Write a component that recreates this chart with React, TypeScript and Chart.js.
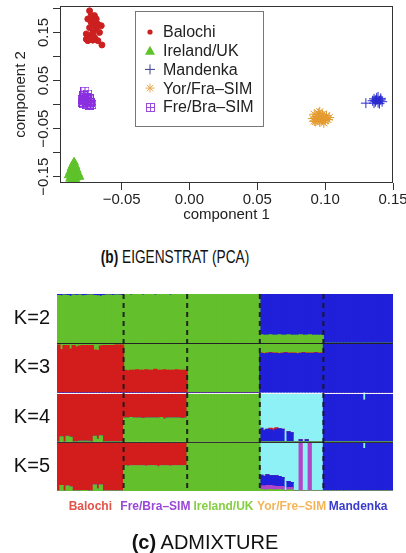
import React, { useEffect, useRef } from 'react';
import { Chart, registerables } from 'chart.js';

Chart.register(...registerables);

const FONT = '"Liberation Sans", Arial, Helvetica, sans-serif';

// ---------------- PCA (EIGENSTRAT) data ----------------
const BALOCHI_X = [-0.0736, -0.07, -0.0749, -0.0712, -0.0675, -0.065, -0.0736, -0.0687, -0.0712, -0.0663, -0.0736, -0.07, -0.0749, -0.0712, -0.0675, -0.0645, -0.076, -0.0724, -0.0687, -0.0724, -0.07, -0.076];
const BALOCHI_Y = [0.195, 0.185, 0.178, 0.174, 0.167, 0.164, 0.16, 0.157, 0.15, 0.15, 0.143, 0.14, 0.133, 0.134, 0.133, 0.124, 0.136, 0.185, 0.178, 0.171, 0.164, 0.147];
const IRELAND_X = [-0.085, -0.086, -0.084, -0.087, -0.085, -0.083, -0.088, -0.086, -0.084, -0.082, -0.089, -0.087, -0.085, -0.083, -0.081, -0.088, -0.086, -0.084];
const IRELAND_Y = [-0.12, -0.126, -0.128, -0.132, -0.134, -0.136, -0.14, -0.141, -0.142, -0.144, -0.147, -0.149, -0.15, -0.151, -0.15, -0.154, -0.155, -0.155];
const MANDENKA_X = [0.136, 0.138, 0.14, 0.137, 0.139, 0.141, 0.135, 0.138, 0.14, 0.136, 0.142, 0.139, 0.13, 0.137, 0.141];
const MANDENKA_Y = [0.012, 0.01, 0.008, 0.006, 0.004, 0.01, 0.008, 0.014, 0.002, 0.003, 0.006, 0.016, 0.003, 0.009, 0.013];
const YOR_X = [0.092, 0.095, 0.098, 0.101, 0.094, 0.097, 0.1, 0.103, 0.091, 0.094, 0.097, 0.1, 0.096, 0.093, 0.099, 0.096, 0.098, 0.095, 0.102, 0.092];
const YOR_Y = [-0.02, -0.018, -0.021, -0.023, -0.025, -0.026, -0.028, -0.027, -0.029, -0.031, -0.032, -0.033, -0.036, -0.035, -0.038, -0.015, -0.03, -0.028, -0.031, -0.034];
const FREBRA_X = [-0.077, -0.075, -0.078, -0.076, -0.074, -0.079, -0.077, -0.075, -0.073, -0.078, -0.076, -0.074, -0.072, -0.077, -0.075, -0.079];
const FREBRA_Y = [0.028, 0.022, 0.018, 0.014, 0.012, 0.01, 0.008, 0.006, 0.004, 0.002, 0.0, -0.002, 0.0, 0.015, 0.01, 0.005];

const PCA_LABELS = ['Balochi', 'Ireland/UK', 'Mandenka', 'Yor/Fra\u2013SIM', 'Fre/Bra\u2013SIM'];
const X_MIN = -0.0954;
const X_MAX = 0.15;
const Y_MIN = -0.163;
const Y_MAX = 0.205;
const X_TICKS = [-0.05, 0, 0.05, 0.1, 0.15];
const X_TICK_LABELS = ['\u22120.05', '0.00', '0.05', '0.10', '0.15'];
const Y_TICKS = [-0.15, -0.1, -0.05, 0, 0.05, 0.1, 0.15, 0.2];
const Y_TICK_LABELS = ['\u22120.15', '', '\u22120.05', '', '0.05', '', '0.15', ''];

// ---------------- ADMIXTURE data ----------------
const GROUPS = ['Balochi', 'Fre/Bra\u2013SIM', 'Ireland/UK', 'Yor/Fre\u2013SIM', 'Mandenka'];
const GROUP_SIZES = [22, 21, 24, 21, 23];
const GROUP_COLORS = ['#e0544a', '#9a48d6', '#86cf45', '#f3b45a', '#3a3acc'];
const K_LABELS = ['K=2', 'K=3', 'K=4', 'K=5'];

// K=2 (blue share; green is the rest)
const K2_BLUE_BALOCHI = [0.03, 0.04, 0.02, 0.03, 0.05, 0.02, 0.03, 0.02, 0.04, 0.03, 0.02, 0.02, 0.03, 0.04, 0.05, 0.03, 0.02, 0.02, 0.03, 0.02, 0.02, 0.03];
const K2_BLUE_FREBRA = [0.01, 0.01, 0.02, 0.01, 0.01, 0.01, 0.02, 0.01, 0.01, 0.01, 0.02, 0.01, 0.01, 0.01, 0.01, 0.02, 0.01, 0.01, 0.01, 0.01, 0.01];
const K2_BLUE_YOR = [0.83, 0.84, 0.84, 0.83, 0.84, 0.84, 0.83, 0.84, 0.84, 0.83, 0.84, 0.84, 0.84, 0.83, 0.84, 0.84, 0.83, 0.84, 0.84, 0.84, 0.84];

// K=3
const K3_GREEN_BALOCHI = [0.04, 0.13, 0.05, 0.05, 0.12, 0.05, 0.08, 0.06, 0.05, 0.05, 0.05, 0.05, 0.14, 0.15, 0.06, 0.05, 0.05, 0.05, 0.05, 0.04, 0.04, 0.04];
const K3_GREEN_FREBRA = [0.55, 0.56, 0.55, 0.55, 0.54, 0.55, 0.55, 0.54, 0.55, 0.55, 0.53, 0.55, 0.55, 0.54, 0.55, 0.55, 0.55, 0.54, 0.55, 0.55, 0.55];
const K3_BLUE_YOR = [0.79, 0.78, 0.79, 0.8, 0.79, 0.79, 0.78, 0.79, 0.8, 0.79, 0.79, 0.79, 0.78, 0.79, 0.8, 0.79, 0.79, 0.79, 0.8, 0.79, 0.79];
const K3_GREEN_YOR = [0.2, 0.21, 0.2, 0.19, 0.2, 0.2, 0.21, 0.2, 0.19, 0.2, 0.2, 0.2, 0.21, 0.2, 0.19, 0.2, 0.2, 0.2, 0.19, 0.2, 0.2];

// K=4
const K4_GREEN_BALOCHI = [0, 0.1, 0, 0.11, 0.09, 0, 0, 0.01, 0.01, 0.01, 0.01, 0, 0.11, 0.05, 0.12, 0, 0, 0, 0, 0, 0, 0];
const K4_GREEN_FREBRA = [0.48, 0.48, 0.49, 0.48, 0.48, 0.48, 0.47, 0.48, 0.48, 0.48, 0.48, 0.48, 0.49, 0.46, 0.48, 0.48, 0.48, 0.48, 0.48, 0.47, 0.48];
const K4_BLUE_YOR = [0.27, 0.23, 0.25, 0.24, 0.22, 0.25, 0.26, 0.25, 0, 0.2, 0.18, 0, 0, 0.04, 0, 0.04, 0, 0, 0, 0, 0];
const K4_RED_YOR = [0, 0, 0, 0.03, 0.04, 0.03, 0, 0, 0, 0, 0, 0, 0, 0, 0, 0, 0, 0, 0, 0, 0];
const K4_BLUE_MANDENKA = [1, 1, 1, 1, 1, 1, 1, 1, 1, 1, 1, 1, 1, 0.84, 1, 1, 1, 1, 1, 1, 1, 1, 1];

// K=5
const K5_GREEN_BALOCHI = [0, 0.11, 0, 0.1, 0.08, 0, 0, 0, 0.01, 0.01, 0, 0, 0.12, 0.04, 0.12, 0, 0, 0, 0, 0, 0, 0];
const K5_GREEN_FREBRA = [0.51, 0.5, 0.51, 0.51, 0.51, 0.51, 0.51, 0.5, 0.51, 0.51, 0.51, 0.49, 0.51, 0.51, 0.51, 0.5, 0.51, 0.51, 0.51, 0.51, 0.51];
const K5_GREEN_YOR = [0.03, 0.02, 0.02, 0.03, 0.02, 0.02, 0.03, 0.02, 0, 0.02, 0.02, 0, 0, 0, 0, 0, 0, 0, 0, 0, 0];
const K5_PURPLE_YOR = [0.07, 0.08, 0.09, 0.08, 0.08, 0.07, 0.06, 0.07, 0, 0.05, 0.05, 0, 0, 1, 0, 0, 1, 0, 0, 0, 0];
const K5_BLUE_YOR = [0.22, 0.2, 0.22, 0.2, 0.21, 0.22, 0.2, 0.18, 0, 0.12, 0.1, 0, 0, 0, 0, 0, 0, 0, 0, 0, 0];
const K5_BLUE_MANDENKA = [1, 1, 1, 1, 1, 1, 1, 1, 1, 1, 1, 1, 1, 0.86, 1, 1, 1, 1, 1, 1, 1, 1, 1];

const C_RED = '#d31d1d';
const C_GREEN = '#63bf2b';
const C_BLUE = '#2020da';
const C_CYAN = '#8df1f5';
const C_PURPLE = '#b246c9';

const rep = (v: number, n: number): number[] => Array(n).fill(v);
const rest = (...parts: number[][]): number[] =>
  parts[0].map((_, i) => Math.max(0, 1 - parts.reduce((s, p) => s + p[i], 0)));
const [NB, NF, NI, NY, NM] = GROUP_SIZES;

const K2_BLUE = [...K2_BLUE_BALOCHI, ...K2_BLUE_FREBRA, ...rep(0, NI), ...K2_BLUE_YOR, ...rep(1, NM)];
const K2_GREEN = rest(K2_BLUE);

const K3_BLUE = [...rep(0, NB + NF + NI), ...K3_BLUE_YOR, ...rep(1, NM)];
const K3_GREEN = [...K3_GREEN_BALOCHI, ...K3_GREEN_FREBRA, ...rep(1, NI), ...K3_GREEN_YOR, ...rep(0, NM)];
const K3_RED = rest(K3_BLUE, K3_GREEN);

const K4_GREEN = [...K4_GREEN_BALOCHI, ...K4_GREEN_FREBRA, ...rep(1, NI), ...rep(0, NY + NM)];
const K4_BLUE = [...rep(0, NB + NF + NI), ...K4_BLUE_YOR, ...K4_BLUE_MANDENKA];
const K4_RED = [...rest(K4_GREEN_BALOCHI), ...rest(K4_GREEN_FREBRA), ...rep(0, NI), ...K4_RED_YOR, ...rep(0, NM)];
const K4_CYAN = rest(K4_GREEN, K4_BLUE, K4_RED);

const K5_GREEN = [...K5_GREEN_BALOCHI, ...K5_GREEN_FREBRA, ...rep(1, NI), ...K5_GREEN_YOR, ...rep(0, NM)];
const K5_PURPLE = [...rep(0, NB + NF + NI), ...K5_PURPLE_YOR, ...rep(0, NM)];
const K5_BLUE = [...rep(0, NB + NF + NI), ...K5_BLUE_YOR, ...K5_BLUE_MANDENKA];
const K5_RED = [...rest(K5_GREEN_BALOCHI), ...rest(K5_GREEN_FREBRA), ...rep(0, NI + NY + NM)];
const K5_CYAN = rest(K5_GREEN, K5_PURPLE, K5_BLUE, K5_RED);

const INDIVIDUALS = K2_BLUE.map((_, i) => String(i + 1));

// rows: components bottom -> top
const ROWS: { id: string; label: string; comps: [number[], string][] }[] = [
  { id: 'k2', label: K_LABELS[0], comps: [[K2_GREEN, C_GREEN], [K2_BLUE, C_BLUE]] },
  { id: 'k3', label: K_LABELS[1], comps: [[K3_BLUE, C_BLUE], [K3_RED, C_RED], [K3_GREEN, C_GREEN]] },
  { id: 'k4', label: K_LABELS[2], comps: [[K4_GREEN, C_GREEN], [K4_BLUE, C_BLUE], [K4_RED, C_RED], [K4_CYAN, C_CYAN]] },
  { id: 'k5', label: K_LABELS[3], comps: [[K5_GREEN, C_GREEN], [K5_PURPLE, C_PURPLE], [K5_BLUE, C_BLUE], [K5_RED, C_RED], [K5_CYAN, C_CYAN]] },
];

// ---------------- helpers ----------------
function boxPlusCanvas(color: string, size: number): HTMLCanvasElement {
  const c = document.createElement('canvas');
  c.width = size;
  c.height = size;
  const g = c.getContext('2d')!;
  g.strokeStyle = color;
  g.lineWidth = 1;
  g.strokeRect(0.5, 0.5, size - 1, size - 1);
  g.beginPath();
  const m = Math.floor(size / 2) + 0.5;
  g.moveTo(m, 0);
  g.lineTo(m, size);
  g.moveTo(0, m);
  g.lineTo(size, m);
  g.stroke();
  return c;
}

const COL_BAL = '#cc2020';
const COL_IRE = '#5ec22a';
const COL_MAN = '#2a2ad0';
const COL_YOR = '#e39a2e';
const COL_FRE = '#8a2fe0';

function drawMarker(ctx: CanvasRenderingContext2D, kind: number, x: number, y: number) {
  ctx.save();
  ctx.lineWidth = 1;
  if (kind === 0) {
    ctx.fillStyle = COL_BAL;
    ctx.beginPath();
    ctx.arc(x, y, 2.6, 0, Math.PI * 2);
    ctx.fill();
  } else if (kind === 1) {
    ctx.fillStyle = COL_IRE;
    ctx.beginPath();
    ctx.moveTo(x, y - 5);
    ctx.lineTo(x + 5, y + 4);
    ctx.lineTo(x - 5, y + 4);
    ctx.closePath();
    ctx.fill();
  } else if (kind === 2) {
    ctx.strokeStyle = '#3b3b92';
    ctx.beginPath();
    ctx.moveTo(x - 5, y);
    ctx.lineTo(x + 5, y);
    ctx.moveTo(x, y - 5);
    ctx.lineTo(x, y + 5);
    ctx.stroke();
  } else if (kind === 3) {
    ctx.strokeStyle = '#e6a94e';
    ctx.beginPath();
    for (let k = 0; k < 4; k++) {
      const a = (k * Math.PI) / 4;
      ctx.moveTo(x - 4.5 * Math.cos(a), y - 4.5 * Math.sin(a));
      ctx.lineTo(x + 4.5 * Math.cos(a), y + 4.5 * Math.sin(a));
    }
    ctx.stroke();
  } else {
    ctx.strokeStyle = '#9a4cd8';
    ctx.strokeRect(Math.round(x - 4) + 0.5, Math.round(y - 4) + 0.5, 8, 8);
    ctx.beginPath();
    ctx.moveTo(Math.round(x) + 0.5, Math.round(y - 4));
    ctx.lineTo(Math.round(x) + 0.5, Math.round(y + 4) + 1);
    ctx.moveTo(Math.round(x - 4), Math.round(y) + 0.5);
    ctx.lineTo(Math.round(x + 4) + 1, Math.round(y) + 0.5);
    ctx.stroke();
  }
  ctx.restore();
}

const pts = (xs: number[], ys: number[]) => xs.map((x, i) => ({ x, y: ys[i] }));

function topConfig(): any {
  const boxPlus = boxPlusCanvas(COL_FRE, 9);
  const framePlugin = {
    id: 'frame',
    afterDraw(chart: any) {
      const { ctx, chartArea: a, scales } = chart;
      ctx.save();
      ctx.strokeStyle = '#333';
      ctx.lineWidth = 1;
      ctx.strokeRect(a.left + 0.5, a.top + 0.5, a.right - a.left - 1, a.bottom - a.top - 1);
      // rotated y tick labels (R style)
      ctx.fillStyle = '#222';
      ctx.font = `15px ${FONT}`;
      ctx.textAlign = 'center';
      ctx.textBaseline = 'middle';
      Y_TICKS.forEach((v, i) => {
        if (!Y_TICK_LABELS[i]) return;
        const y = scales.y.getPixelForValue(v);
        ctx.save();
        ctx.translate(a.left - 16, y);
        ctx.rotate(-Math.PI / 2);
        ctx.fillText(Y_TICK_LABELS[i], 0, 0);
        ctx.restore();
      });
      // legend
      const bx = a.left + 75;
      const by = a.top + 5;
      ctx.fillStyle = '#fff';
      ctx.fillRect(bx, by, 128, 115);
      ctx.strokeStyle = '#777';
      ctx.strokeRect(bx + 0.5, by + 0.5, 128, 115);
      ctx.font = `16px ${FONT}`;
      ctx.textAlign = 'left';
      ctx.fillStyle = '#222';
      PCA_LABELS.forEach((lab, i) => {
        const yy = by + 21 + i * 18.7;
        drawMarker(ctx, i, bx + 15, yy);
        ctx.fillStyle = '#222';
        ctx.fillText(lab, bx + 28, yy + 1);
      });
      ctx.restore();
    },
  };
  return {
    type: 'scatter',
    data: {
      datasets: [
        { label: PCA_LABELS[0], data: pts(BALOCHI_X, BALOCHI_Y), pointStyle: 'circle', pointRadius: 3, backgroundColor: COL_BAL, borderColor: COL_BAL, borderWidth: 1 },
        { label: PCA_LABELS[1], data: pts(IRELAND_X, IRELAND_Y), pointStyle: 'triangle', pointRadius: 5, backgroundColor: COL_IRE, borderColor: COL_IRE, borderWidth: 1 },
        { label: PCA_LABELS[2], data: pts(MANDENKA_X, MANDENKA_Y), pointStyle: 'cross', pointRadius: 5, backgroundColor: COL_MAN, borderColor: COL_MAN, borderWidth: 1 },
        { label: PCA_LABELS[3], data: pts(YOR_X, YOR_Y), pointStyle: 'star', pointRadius: 5, backgroundColor: COL_YOR, borderColor: COL_YOR, borderWidth: 1 },
        { label: PCA_LABELS[4], data: pts(FREBRA_X, FREBRA_Y), pointStyle: boxPlus, pointRadius: 4, backgroundColor: COL_FRE, borderColor: COL_FRE },
      ],
    },
    options: {
      responsive: false,
      animation: false,
      layout: { padding: { top: 5, right: 13, left: 0, bottom: 0 } },
      plugins: { legend: { display: false }, tooltip: { enabled: false } },
      scales: {
        x: {
          type: 'linear',
          min: X_MIN,
          max: X_MAX,
          afterBuildTicks: (s: any) => {
            s.ticks = X_TICKS.map((v) => ({ value: v }));
          },
          ticks: {
            autoSkip: false,
            maxRotation: 0,
            minRotation: 0,
            padding: 1,
            color: '#222',
            font: { family: FONT, size: 15 },
            callback: (_v: any, i: number) => X_TICK_LABELS[i],
          },
          grid: { drawOnChartArea: false, drawTicks: true, tickLength: 7, color: '#333' },
          border: { display: false },
          title: { display: true, text: 'component 1', color: '#222', font: { family: FONT, size: 15 }, padding: { top: 0, bottom: 8 } },
          afterFit: (s: any) => {
            s.height = 49;
            s.paddingLeft = 0;
            s.paddingRight = 0;
          },
        },
        y: {
          type: 'linear',
          min: Y_MIN,
          max: Y_MAX,
          afterBuildTicks: (s: any) => {
            s.ticks = Y_TICKS.map((v) => ({ value: v }));
          },
          ticks: { display: false },
          grid: { drawOnChartArea: false, drawTicks: true, tickLength: 7, color: '#333' },
          border: { display: false },
          title: { display: true, text: 'component 2', color: '#222', font: { family: FONT, size: 15 }, padding: { top: 12, bottom: 0 } },
          afterFit: (s: any) => {
            s.width = 60;
            s.paddingTop = 0;
            s.paddingBottom = 0;
          },
        },
      },
    },
    plugins: [framePlugin],
  };
}

function botConfig(): any {
  const datasets: any[] = [];
  ROWS.forEach((row) => {
    row.comps.forEach(([data, color]) => {
      datasets.push({
        data,
        backgroundColor: color,
        yAxisID: row.id,
        stack: row.id,
        grouped: false,
        borderWidth: 0,
        categoryPercentage: 1,
        barPercentage: 1,
        inflateAmount: 0.6,
      });
    });
  });
  const scales: any = {
    x: { type: 'category', labels: INDIVIDUALS, display: false, offset: true },
  };
  ROWS.forEach((row, r) => {
    scales[row.id] = {
      type: 'linear',
      position: 'left',
      stack: 'admix',
      stackWeight: 1,
      weight: 10 - r,
      stacked: true,
      min: 0,
      max: 1,
      grid: { display: false, drawTicks: false },
      border: { display: false },
      afterBuildTicks: (s: any) => {
        s.ticks = [{ value: 0.5 }];
      },
      ticks: { callback: () => row.label, color: '#111', font: { family: FONT, size: 20 }, padding: 7 },
      afterFit: (s: any) => {
        s.width = 57;
      },
    };
  });
  const overlay = {
    id: 'overlay',
    afterDatasetsDraw(chart: any) {
      const { ctx, chartArea: a, scales: sc } = chart;
      const xs = sc.x;
      ctx.save();
      // row separators
      const sepColors = ['#222', '#f4f4f4', '#333'];
      ROWS.slice(1).forEach((row, i) => {
        const y = Math.round(sc[row.id].top) + 0.5;
        ctx.strokeStyle = sepColors[i];
        ctx.lineWidth = 1;
        ctx.beginPath();
        ctx.moveTo(a.left, y);
        ctx.lineTo(a.right, y);
        ctx.stroke();
      });
      // dashed group boundaries
      let cum = 0;
      ctx.strokeStyle = 'rgba(25,25,25,0.92)';
      ctx.lineWidth = 2;
      ctx.setLineDash([5, 4]);
      GROUP_SIZES.slice(0, -1).forEach((n) => {
        cum += n;
        const x = (xs.getPixelForValue(cum - 1) + xs.getPixelForValue(cum)) / 2;
        ctx.beginPath();
        ctx.moveTo(x, a.top);
        ctx.lineTo(x, a.bottom);
        ctx.stroke();
      });
      ctx.setLineDash([]);
      // group labels
      ctx.font = `bold 12px ${FONT}`;
      ctx.textAlign = 'center';
      ctx.textBaseline = 'middle';
      let start = 0;
      GROUPS.forEach((g, i) => {
        const end = start + GROUP_SIZES[i] - 1;
        const cx = (xs.getPixelForValue(start) + xs.getPixelForValue(end)) / 2;
        ctx.fillStyle = GROUP_COLORS[i];
        ctx.fillText(g, cx, a.bottom + 16);
        start = end + 1;
      });
      ctx.restore();
    },
  };
  return {
    type: 'bar',
    data: { labels: INDIVIDUALS, datasets },
    options: {
      responsive: false,
      animation: false,
      layout: { padding: { top: 8, right: 13, left: 0, bottom: 62 } },
      plugins: { legend: { display: false }, tooltip: { enabled: false } },
      scales,
    },
    plugins: [overlay],
  };
}

export default function App() {
  const topRef = useRef<HTMLCanvasElement>(null);
  const botRef = useRef<HTMLCanvasElement>(null);
  useEffect(() => {
    const c1 = new Chart(topRef.current as HTMLCanvasElement, topConfig());
    const c2 = new Chart(botRef.current as HTMLCanvasElement, botConfig());
    return () => {
      c1.destroy();
      c2.destroy();
    };
  }, []);
  return (
    <div style={{ position: 'absolute', left: 0, top: 0, width: 406, height: 553, background: '#fff', overflow: 'hidden' }}>
      <canvas ref={topRef} width={406} height={232} style={{ position: 'absolute', left: 0, top: 0, width: 406, height: 232 }} />
      <div
        style={{
          position: 'absolute',
          left: 25,
          top: 244,
          width: 300,
          textAlign: 'center',
          fontFamily: FONT,
          fontSize: 19,
          lineHeight: '26px',
          color: '#111',
          whiteSpace: 'nowrap',
          transform: 'scaleX(0.72)',
          transformOrigin: '150px 13px',
        }}
      >
        <b>(b)</b> EIGENSTRAT (PCA)
      </div>
      <canvas ref={botRef} width={406} height={278} style={{ position: 'absolute', left: 0, top: 275, width: 406, height: 278 }} />
      <div
        style={{
          position: 'absolute',
          left: 55,
          top: 529,
          width: 300,
          textAlign: 'center',
          fontFamily: FONT,
          fontSize: 20,
          lineHeight: '26px',
          color: '#111',
          whiteSpace: 'nowrap',
        }}
      >
        <b>(c)</b> ADMIXTURE
      </div>
    </div>
  );
}
